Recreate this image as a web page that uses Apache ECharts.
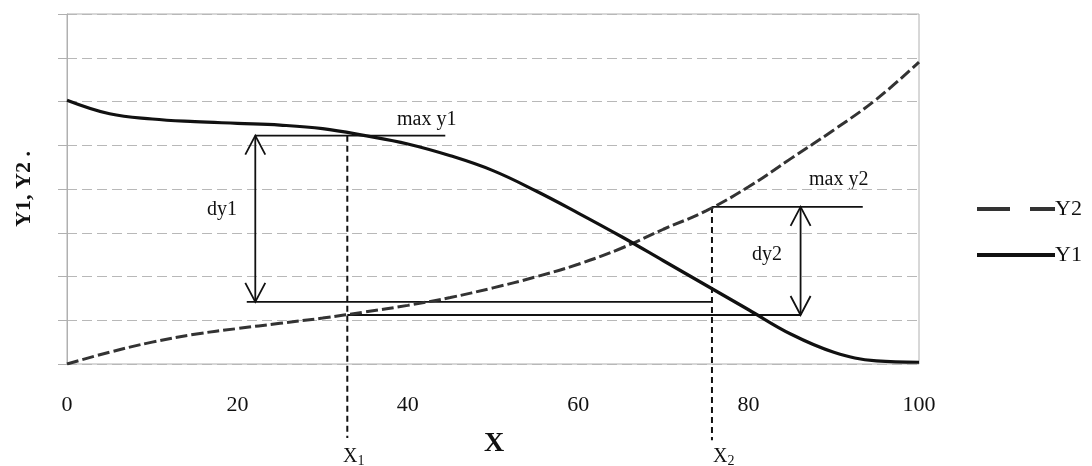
<!DOCTYPE html>
<html>
<head>
<meta charset="utf-8">
<script src="https://cdn.jsdelivr.net/npm/echarts@6/dist/echarts.min.js"></script>
<style>
html,body{margin:0;padding:0;background:#fff;}
#chart{width:1092px;height:466px;}
</style>
</head>
<body>
<div id="chart"></div>
<script>
// ---- data ----
const xValues = [0, 5, 10, 15, 20, 25, 30, 35, 40, 45, 50, 55, 60, 65, 70, 75, 80, 85, 90, 95, 100];
const y1Values = [6.03, 5.72, 5.60, 5.54, 5.50, 5.46, 5.38, 5.22, 5.03, 4.76, 4.42, 3.96, 3.45, 2.92, 2.36, 1.80, 1.24, 0.68, 0.27, 0.07, 0.04];
const y2Values = [0, 0.27, 0.50, 0.68, 0.81, 0.93, 1.05, 1.19, 1.34, 1.52, 1.74, 1.99, 2.28, 2.64, 3.08, 3.50, 4.05, 4.70, 5.35, 6.05, 6.90];
const xTickValues = [0, 20, 40, 60, 80, 100];
const seriesNames = ['Y2', 'Y1'];

// annotation values (data units)
const x1Pos = 32.9;
const x2Pos = 75.7;
const maxY1 = 5.22;
const maxY2 = 3.59;
const y1AtX2 = 1.42;
const y2AtX1 = 1.12;
const dy1X = 22.1;
const dy2X = 86.1;
const maxY1LineEnd = 44.4;
const lineAStart = 21.1;
const maxY2LineEnd = 93.4;
const dropBottom1 = -1.69;
const dropBottom2 = -1.74;

const serif = '"Liberation Serif", "Times New Roman", serif';

const chart = echarts.init(document.getElementById('chart'), null, {renderer: 'canvas'});

function pairs(xs, ys) { return xs.map((x, i) => [x, ys[i]]); }

function seg(data, dashed) {
  return {
    type: 'line', data: data, symbol: 'none', silent: true, clip: false,
    lineStyle: {color: '#111', width: dashed ? 2 : 1.8, type: dashed ? [6, 4] : 'solid'},
    z: 3, legendHoverLink: false, tooltip: {show: false}
  };
}

const arrowData = [[dy1X, y1AtX2, maxY1], [dy2X, y2AtX1, maxY2]];

const option = {
  animation: false,
  backgroundColor: '#fff',
  grid: {left: 67, right: 173, top: 14, bottom: 102, show: true, borderColor: '#b0b0b0', borderWidth: 1, outerBoundsMode: 'none', containLabel: false},
  legend: {
    orient: 'vertical', left: 975, top: 198, padding: 0, itemWidth: 78, itemHeight: 14, itemGap: 24,
    itemStyle: {opacity: 0},
    textStyle: {fontFamily: serif, fontSize: 22, color: '#111', padding: [0, 0, 0, -5]},
    data: [
      {name: 'Y2', lineStyle: {type: [33, 20], width: 4, color: '#333'}, itemStyle: {opacity: 0}},
      {name: 'Y1', lineStyle: {width: 4, color: '#111'}, itemStyle: {opacity: 0}}
    ]
  },
  xAxis: {
    type: 'value', min: xTickValues[0], max: xTickValues[xTickValues.length - 1], interval: 20,
    axisLine: {show: false}, axisTick: {show: false}, splitLine: {show: false},
    axisLabel: {fontFamily: serif, fontSize: 22, color: '#111', margin: 30}
  },
  yAxis: {
    type: 'value', min: 0, max: 8, interval: 1,
    name: 'Y1, Y2 .', nameLocation: 'middle', nameGap: 32, nameRotate: 90,
    nameTextStyle: {fontFamily: serif, fontSize: 22, fontWeight: 'bold', color: '#111'},
    axisLine: {show: true, lineStyle: {color: '#b0b0b0', width: 1}},
    axisTick: {show: true, length: 9, lineStyle: {color: '#b0b0b0'}},
    axisLabel: {show: false},
    splitLine: {show: true, lineStyle: {color: '#b8b8b8', width: 1, type: [10, 5]}}
  },
  series: [
    {
      name: seriesNames[0], type: 'line', data: pairs(xValues, y2Values), symbol: 'none', smooth: 0.4,
      lineStyle: {color: '#333', width: 3, type: [12, 4]}, itemStyle: {color: '#333'}, z: 4
    },
    {
      name: seriesNames[1], type: 'line', data: pairs(xValues, y1Values), symbol: 'none', smooth: 0.4,
      lineStyle: {color: '#111', width: 3.2}, itemStyle: {color: '#111'}, z: 5
    },
    seg([[dy1X, maxY1], [maxY1LineEnd, maxY1]]),
    seg([[lineAStart, y1AtX2], [x2Pos, y1AtX2]]),
    seg([[x1Pos, y2AtX1], [dy2X, y2AtX1]]),
    seg([[x2Pos, maxY2], [maxY2LineEnd, maxY2]]),
    seg([[x1Pos, maxY1], [x1Pos, dropBottom1]], true),
    seg([[x2Pos, maxY2], [x2Pos, dropBottom2]], true),
    {
      type: 'custom', silent: true, clip: false, z: 3, data: arrowData,
      renderItem: function (params, api) {
        const top = api.coord([api.value(0), api.value(2)]);
        const bot = api.coord([api.value(0), api.value(1)]);
        const st = {stroke: '#111', lineWidth: 1.8, fill: null};
        return {
          type: 'group',
          children: [
            {type: 'line', shape: {x1: top[0], y1: top[1], x2: bot[0], y2: bot[1]}, style: st},
            {type: 'polyline', shape: {points: [[top[0] - 10, top[1] + 19], [top[0], top[1]], [top[0] + 10, top[1] + 19]]}, style: st},
            {type: 'polyline', shape: {points: [[bot[0] - 10, bot[1] - 19], [bot[0], bot[1]], [bot[0] + 10, bot[1] - 19]]}, style: st}
          ]
        };
      }
    }
  ],
  graphic: [
    {type: 'text', left: 397, top: 110, style: {text: 'max y1', font: '20px ' + serif, fill: '#111'}},
    {type: 'text', left: 809, top: 170, style: {text: 'max y2', font: '20px ' + serif, fill: '#111'}},
    {type: 'text', left: 207, top: 200, style: {text: 'dy1', font: '20px ' + serif, fill: '#111'}},
    {type: 'text', left: 752, top: 245, style: {text: 'dy2', font: '20px ' + serif, fill: '#111'}},
    {type: 'text', left: 484, top: 430, style: {text: 'X', font: 'bold 28px ' + serif, fill: '#111'}},
    {type: 'text', left: 343, top: 447, style: {
      text: '{a|X}{b|1}', rich: {
        a: {fontFamily: serif, fontSize: 20, fill: '#111'},
        b: {fontFamily: serif, fontSize: 14, fill: '#111', padding: [8, 0, 0, 0]}
      }}},
    {type: 'text', left: 713, top: 447, style: {
      text: '{a|X}{b|2}', rich: {
        a: {fontFamily: serif, fontSize: 20, fill: '#111'},
        b: {fontFamily: serif, fontSize: 14, fill: '#111', padding: [8, 0, 0, 0]}
      }}}
  ]
};

chart.setOption(option);
</script>
</body>
</html>
